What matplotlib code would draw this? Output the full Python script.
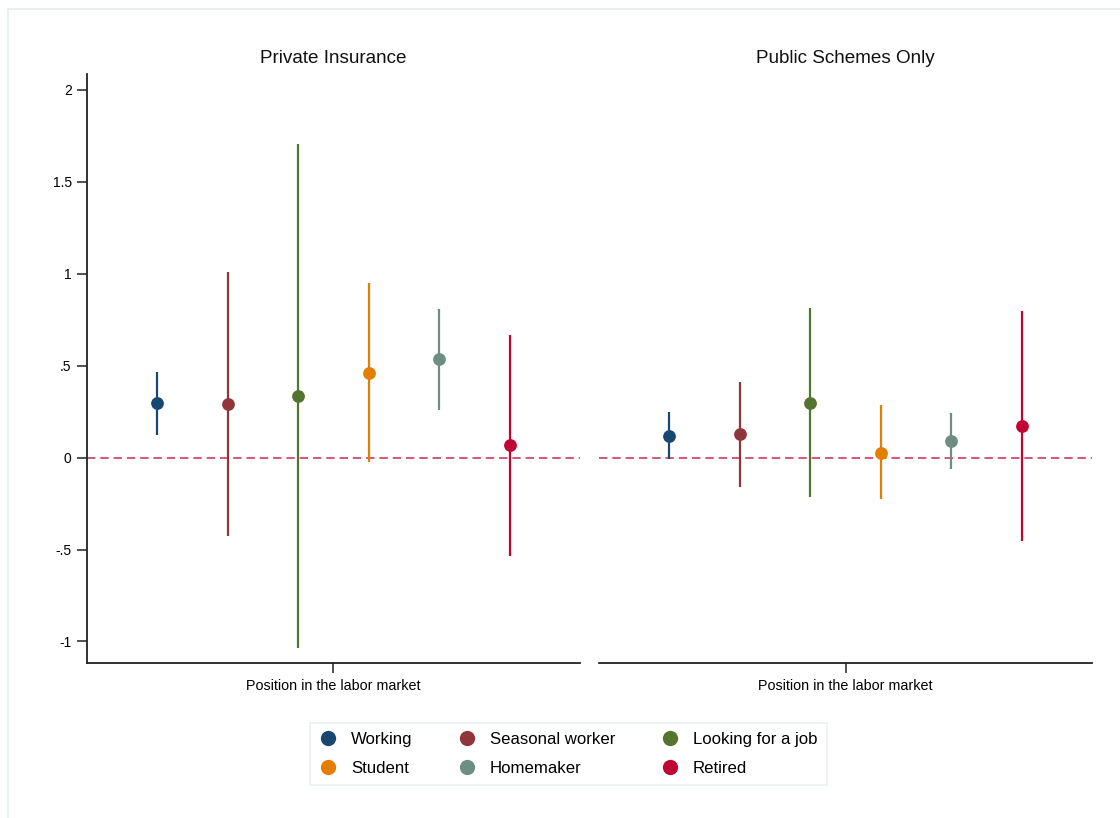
import numpy as np
import matplotlib.pyplot as plt
from matplotlib.patches import Rectangle
from matplotlib.lines import Line2D

plt.rcParams['font.family'] = ['Liberation Sans', 'DejaVu Sans']

# categories and their colours
groups = ['Working', 'Seasonal worker', 'Looking for a job',
          'Student', 'Homemaker', 'Retired']
colors = ['#1a476f', '#90353b', '#55752f', '#e37e00', '#6e8e84', '#c10534']

panel_titles = ['Private Insurance', 'Public Schemes Only']

# point estimates and 95% CI bounds
private_coef = [0.297, 0.290, 0.335, 0.462, 0.535, 0.069]
private_lo = [0.123, -0.429, -1.036, -0.025, 0.258, -0.534]
private_hi = [0.467, 1.008, 1.703, 0.948, 0.808, 0.667]

public_coef = [0.118, 0.127, 0.297, 0.027, 0.091, 0.174]
public_lo = [-0.009, -0.158, -0.215, -0.228, -0.060, -0.453]
public_hi = [0.247, 0.411, 0.814, 0.286, 0.241, 0.797]

yticks = [-1, -0.5, 0, 0.5, 1, 1.5, 2]
yticklabels = ['-1', '-.5', '0', '.5', '1', '1.5', '2']

W, H = 1120, 818
fig = plt.figure(figsize=(W / 100, H / 100), dpi=100)
fig.patch.set_facecolor('white')

# light frame around the graph region
frame = Rectangle((8 / W, -0.05), 1.1, 1 - 9 / H + 0.05,
                  transform=fig.transFigure, facecolor='none',
                  edgecolor='#e4ecec', linewidth=1.2, zorder=-10)
fig.patches.append(frame)

bottom = 1 - 663 / H
height = (663 - 74) / H
ax1 = fig.add_axes([87 / W, bottom, 493 / W, height])
ax2 = fig.add_axes([599 / W, bottom, 493 / W, height])

panels = [(ax1, private_coef, private_lo, private_hi),
          (ax2, public_coef, public_lo, public_hi)]

x = np.arange(len(groups)) - 2.5
for i, (ax, coef, lo, hi) in enumerate(panels):
    ax.set_facecolor('none')
    ax.axhline(0, color='#c10534', alpha=0.85, lw=1.1, dashes=(5.5, 3.2), zorder=1)
    for j in range(len(groups)):
        ax.vlines(x[j], lo[j], hi[j], color=colors[j], lw=1.6, zorder=2)
        ax.plot(x[j], coef[j], 'o', color=colors[j], ms=9.2, mec='none', zorder=3)
    ax.set_xlim(-3.5, 3.5)
    ax.set_ylim(-1.117, 2.085)
    ax.set_title(panel_titles[i], fontsize=13.6, pad=8, color='#111111')
    ax.set_xticks([0])
    ax.set_xticklabels([''])
    ax.set_xlabel('Position in the labor market', fontsize=10.3, labelpad=1)
    ax.tick_params(axis='x', length=7, width=1.1, color='#222222')
    for s in ['top', 'right']:
        ax.spines[s].set_visible(False)
    ax.spines['bottom'].set_color('#222222')
    ax.spines['bottom'].set_linewidth(1.3)
    if i == 0:
        ax.set_yticks(yticks)
        ax.set_yticklabels(yticklabels)
        ax.tick_params(axis='y', length=7, width=1.1, color='#222222',
                       labelsize=10, pad=4)
        ax.spines['left'].set_color('#222222')
        ax.spines['left'].set_linewidth(1.3)
    else:
        ax.spines['left'].set_visible(False)
        ax.set_yticks([])

# legend: Stata-style row order with three columns
handles = [Line2D([], [], marker='o', ls='none', color=c, ms=11, mec='none')
           for c in colors]
order = [0, 3, 1, 4, 2, 5]
leg = fig.legend([handles[k] for k in order], [groups[k] for k in order],
                 ncol=3, loc='center', bbox_to_anchor=(568.5 / W, 1 - 754 / H),
                 fontsize=12.1, frameon=True, fancybox=False,
                 handletextpad=0.85, columnspacing=2.75, handlelength=1.0,
                 borderpad=0.58, labelspacing=0.8, borderaxespad=0)
leg.get_frame().set_edgecolor('#e4ecec')
leg.get_frame().set_linewidth(1.2)

fig.savefig('out.png', dpi=100)
